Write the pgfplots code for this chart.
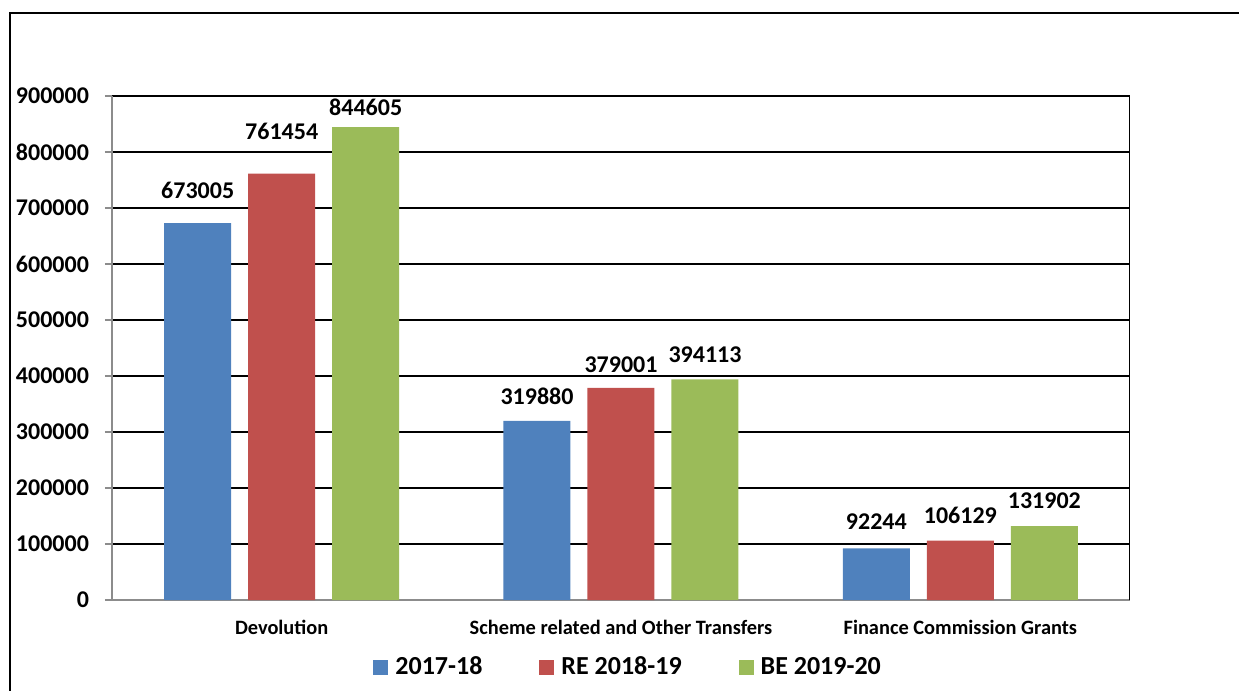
\documentclass[border=0pt]{standalone}
\usepackage{fontspec}
\setmainfont{Carlito}
\usepackage{pgfplots}
\pgfplotsset{compat=1.18}
\definecolor{cblue}{HTML}{4F81BD}
\definecolor{cred}{HTML}{C0504D}
\definecolor{cgreen}{HTML}{9BBB59}
\begin{document}
\begin{tikzpicture}
\useasboundingbox (0pt,0pt) rectangle (619.5pt,-345.5pt);
\draw[line width=1pt] (4.75pt,-346pt) -- (4.75pt,-6.5pt) -- (620pt,-6.5pt);
\begin{axis}[
  at={(56pt,-300pt)}, anchor=south west,
  scale only axis, width=509pt, height=252pt,
  ybar=8.5pt, bar width=33.5pt,
  legend image code/.code={\fill[#1] (0pt,-3.75pt) rectangle (7.5pt,3.75pt);},
  xmin=-0.5, xmax=2.5, ymin=0, ymax=900000,
  xtick={0,1,2},
  xticklabels={Devolution, Scheme related and Other Transfers, Finance Commission Grants},
  x tick style={draw=none},
  xticklabel style={font=\bfseries\fontsize{10.2}{12}\selectfont, yshift=-3pt},
  ytick={0,100000,...,900000},
  scaled y ticks=false,
  /pgf/number format/fixed,
  /pgf/number format/1000 sep={},
  /pgf/number format/assume math mode=true,
  yticklabel style={font=\bfseries\fontsize{12}{14}\selectfont, xshift=-4.5pt},
  ymajorgrids, major grid style={black, line width=1.2pt},
  axis x line*=bottom, axis y line*=left,
  axis line style={black!45, line width=0.9pt},
  y tick style={black!45, line width=0.9pt},
  tick align=outside, major tick length=3.5pt,
  nodes near coords,
  nodes near coords style={font=\bfseries\fontsize{12}{14}\selectfont},
  legend columns=3,
  legend style={at={(0.508,-0.133)}, anchor=center, draw=none, fill=none,
    font=\bfseries\fontsize{13}{16}\selectfont,
    /tikz/every odd column/.append style={column sep=1.5pt},
    /tikz/every even column/.append style={column sep=26.5pt}},
]
\addplot[fill=cblue, draw=none,
  visualization depends on={\thisrow{dy}\as\dy},
  every node near coord/.append style={anchor=center, yshift=\dy pt}]
  table[x=x, y=y] {
x y dy
0 673005 16.5
1 319880 12.5
2 92244 13.5
};
\addlegendentry{2017-18}
\addplot[fill=cred, draw=none,
  visualization depends on={\thisrow{dy}\as\dy},
  every node near coord/.append style={anchor=center, yshift=\dy pt}]
  table[x=x, y=y] {
x y dy
0 761454 21
1 379001 11.5
2 106129 12.5
};
\addlegendentry{RE 2018-19}
\addplot[fill=cgreen, draw=none,
  visualization depends on={\thisrow{dy}\as\dy},
  every node near coord/.append style={anchor=center, yshift=\dy pt}]
  table[x=x, y=y] {
x y dy
0 844605 10
1 394113 12.5
2 131902 12.5
};
\addlegendentry{BE 2019-20}
\draw[black, line width=0.9pt] (rel axis cs:1,0) -- (rel axis cs:1,1);
\end{axis}
\end{tikzpicture}
\end{document}
